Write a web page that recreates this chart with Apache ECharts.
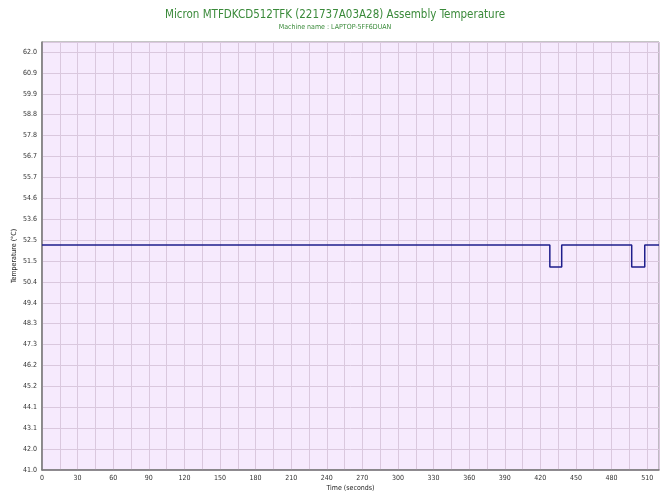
<!DOCTYPE html>
<html>
<head>
<meta charset="utf-8">
<script src="https://cdn.jsdelivr.net/npm/echarts@6/dist/echarts.min.js"></script>
<style>html,body{margin:0;padding:0;background:#fff}#c{width:670px;height:502px}</style>
</head>
<body>
<div id="c"></div>
<script>
var titleText = 'Micron MTFDKCD512TFK (221737A03A28) Assembly Temperature';
var subtitleText = 'Machine name : LAPTOP-5FF6DUAN';
var timeSeconds = [0, 428, 428, 438, 438, 497, 497, 508, 508, 520];
var temperature = [52.3, 52.3, 51.2, 51.2, 52.3, 52.3, 51.2, 51.2, 52.3, 52.3];
var yTickLabels = ['41.0','42.0','43.1','44.1','45.2','46.2','47.3','48.3','49.4','50.4','51.5','52.5','53.6','54.6','55.7','56.7','57.8','58.8','59.9','60.9','62.0'];

var chart = echarts.init(document.getElementById('c'));
var font = 'DejaVu Sans Condensed';
chart.setOption({
  animation: false,
  title: [
    {text: titleText, left: 'center', top: 4, textStyle: {fontFamily: font, fontSize: 11.5, fontWeight: 'normal', color: '#3a8a3a'}},
    {text: subtitleText, left: 'center', top: 19, textStyle: {fontFamily: font, fontSize: 7, fontWeight: 'normal', color: '#3a8a3a'}}
  ],
  grid: {left: 42, right: 11, top: 42, bottom: 32, outerBoundsMode: 'none', containLabel: false, show: true, backgroundColor: '#f6eafd', borderColor: '#8a8a8a', borderWidth: 1},
  xAxis: {
    type: 'value', min: 0, max: 520, interval: 30,
    name: 'Time (seconds)', nameLocation: 'middle', nameGap: 15, nameMoveOverlap: false,
    nameTextStyle: {fontFamily: font, fontSize: 7, color: '#222'},
    axisLine: {show: true, lineStyle: {color: '#777', width: 1.5}},
    axisTick: {show: false},
    axisLabel: {fontFamily: font, fontSize: 7, color: '#333', margin: 5, showMaxLabel: false},
    splitLine: {show: true, lineStyle: {color: '#dac8de', width: 1}},
    minorTick: {show: false, splitNumber: 2},
    minorSplitLine: {show: true, lineStyle: {color: '#dac8de', width: 1}}
  },
  yAxis: {
    type: 'value', min: 41, max: 62.5, interval: 1.05,
    name: 'Temperature (°C)', nameLocation: 'middle', nameGap: 24, nameRotate: 90, nameMoveOverlap: false,
    nameTextStyle: {fontFamily: font, fontSize: 7, color: '#222'},
    axisLine: {show: true, lineStyle: {color: '#777', width: 1.5}},
    axisTick: {show: false},
    axisLabel: {fontFamily: font, fontSize: 7, color: '#333', margin: 5, showMaxLabel: false,
      formatter: function (v) { var i = Math.round((v - 41) / 1.05); return yTickLabels[i] || ''; }},
    splitLine: {show: true, lineStyle: {color: '#dac8de', width: 1}}
  },
  series: [{
    type: 'line',
    data: timeSeconds.map(function (t, i) { return [t, temperature[i]]; }),
    showSymbol: false,
    lineStyle: {color: '#1e1e8c', width: 1.5},
    itemStyle: {color: '#1e1e8c'}
  }]
});
</script>
</body>
</html>
